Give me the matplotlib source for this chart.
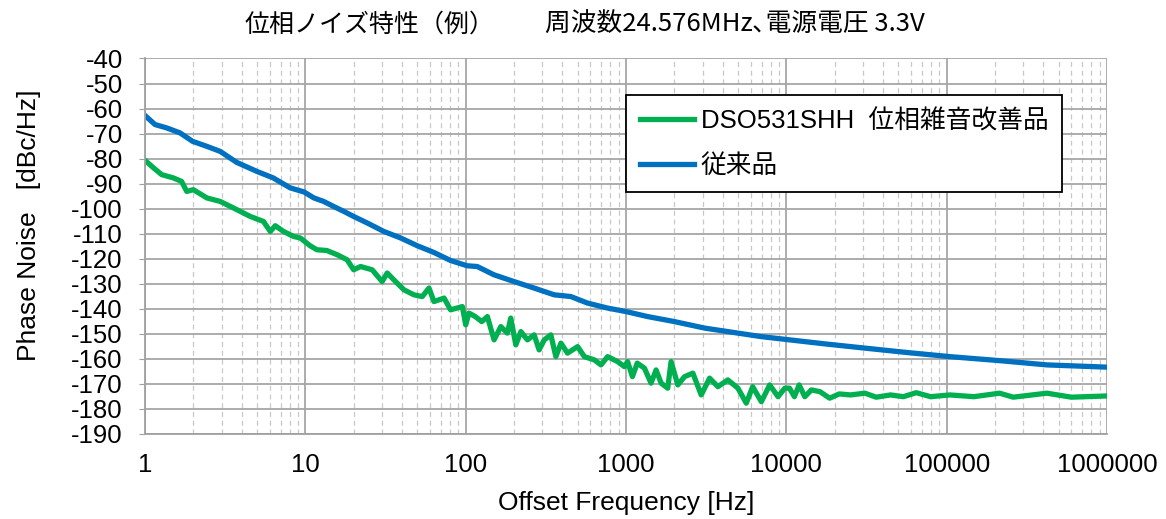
import numpy as np
import matplotlib
matplotlib.use("Agg")
import matplotlib.pyplot as plt
from matplotlib.ticker import FixedLocator, FuncFormatter, LogLocator

plt.rcParams['font.family'] = ['Liberation Sans', 'Noto Sans CJK JP', 'DejaVu Sans']
plt.rcParams['axes.unicode_minus'] = False

# DSO531SHH (green)
green_f = [1.0, 1.13, 1.27, 1.5, 1.69, 1.82, 2.0, 2.43, 2.94, 3.56, 4.53, 5.48, 6.04, 6.49,
           7.31, 8.45, 9.3, 10.7, 11.8, 13.6, 15.8, 18.2, 20.0, 22.1, 26.1, 30.1, 32.4, 35.6,
           41.2, 47.5, 53.6, 59.0, 63.4, 73.3, 80.5, 95.3, 100, 104.7, 114.8, 125.9, 136.5,
           150.3, 165.6, 182.0, 191.0, 205.4, 220.8, 242.7, 267.3, 287.1, 309.0, 339.6, 365.1,
           392.6, 431.5, 498.9, 549.5, 633.9, 698.2, 767.4, 887.2, 977.2, 1023, 1096, 1175,
           1303, 1432, 1540, 1656, 1820, 1910, 2104, 2317, 2612, 2944, 3319, 3741, 4315, 4989,
           5623, 6166, 6982, 7870, 8872, 9772, 10470, 11220, 12020, 13030, 14320, 16220, 18620,
           21380, 25120, 30900, 36310, 44670, 53700, 64570, 79430, 104700, 147900, 213800,
           260000, 421700, 600000, 1000000]
green_db = [-80.7, -83.7, -86.4, -87.7, -89.1, -93.1, -92.4, -95.7, -97.1, -99.7, -103.1, -105.1,
            -109.1, -106.8, -109.1, -111.1, -111.7, -114.8, -116.4, -116.7, -118.4, -120.4,
            -124.4, -123.1, -124.4, -129.1, -125.7, -128.4, -132.4, -134.4, -135.1, -131.7,
            -137.1, -135.7, -140.4, -139.1, -146.4, -141.7, -143.1, -145.1, -143.1, -152.4,
            -147.1, -149.7, -143.7, -154.4, -149.1, -152.4, -150.4, -156.4, -152.4, -150.4,
            -159.1, -153.7, -157.7, -155.1, -159.1, -160.4, -162.4, -159.1, -161.1, -163.1,
            -161.1, -167.1, -161.7, -163.7, -169.7, -164.4, -169.7, -171.7, -161.1, -170.4,
            -167.1, -165.7, -174.4, -167.7, -171.1, -168.4, -171.7, -177.7, -171.1, -177.1,
            -170.4, -175.1, -171.7, -171.7, -175.1, -170.4, -175.1, -172.4, -173.1, -175.7,
            -174.0, -174.4, -173.7, -175.3, -174.4, -175.1, -173.5, -175.1, -174.4, -175.1,
            -173.7, -175.3, -173.7, -175.3, -174.8]

# conventional product (blue)
blue_f = [1.0, 1.155, 1.36, 1.65, 1.98, 2.43, 2.94, 3.73, 4.98, 6.3, 8.05, 9.8, 11.3, 13.0, 15.0,
          17.4, 20.0, 24.3, 30.9, 39.3, 49.9, 63.4, 80.5, 102, 118, 150, 200, 267, 356, 453, 575,
          767, 1000, 1365, 2004, 3090, 4529, 6966, 10470, 17380, 30900, 57540, 104700, 213800,
          421700, 1000000]
blue_db = [-62.8, -66.4, -67.7, -69.7, -73.1, -75.1, -77.1, -81.5, -85.1, -87.7, -91.7, -93.3,
           -95.7, -97.1, -99.1, -101.1, -103.1, -105.7, -109.1, -111.7, -114.8, -117.5, -120.7,
           -122.8, -123.1, -126.4, -129.1, -131.7, -134.4, -135.1, -137.7, -139.7, -141.1,
           -143.1, -145.1, -147.7, -149.3, -151.1, -152.4, -154.0, -155.7, -157.5, -159.1,
           -160.7, -162.4, -163.3]

label_green = "DSO531SHH  位相雑音改善品"
label_blue = "従来品"
yticks = list(range(-40, -191, -10))
xticks = [1, 10, 100, 1000, 10000, 100000, 1000000]

fig = plt.figure(figsize=(11.66, 5.19), dpi=100)
ax = fig.add_axes([0.1244, 0.1638, 0.8250, 0.7235])

ax.plot(green_f, green_db, color='#00B050', lw=3.8, label=label_green, solid_joinstyle='round')
ax.plot(blue_f, blue_db, color='#0070C0', lw=3.8, label=label_blue, solid_joinstyle='round')

ax.set_xscale('log')
ax.set_xlim(1, 1e6)
ax.set_ylim(-190, -40)
ax.xaxis.set_major_locator(FixedLocator(xticks))
ax.xaxis.set_major_formatter(FuncFormatter(lambda v, p: '%d' % round(v)))
ax.xaxis.set_minor_locator(LogLocator(base=10, subs=np.arange(2, 10), numticks=20))
ax.xaxis.set_minor_formatter(FuncFormatter(lambda v, p: ''))
ax.set_yticks(yticks)

ax.grid(True, which='major', axis='both', color='#a6a6a6', lw=1.3, ls='-')
ax.grid(True, which='minor', axis='x', color='#c8c8c8', lw=0.9, ls=(0, (4, 3)))
ax.set_axisbelow(True)
for s in ax.spines.values():
    s.set_color('#a0a0a0')
    s.set_linewidth(1.3)
ax.spines['top'].set_visible(False)
ax.spines['right'].set_visible(False)
ax.tick_params(axis='x', which='both', length=0, labelsize=18.5, pad=14)
ax.tick_params(axis='y', which='both', length=4, color='#a0a0a0', labelsize=18.5, pad=12)

ax.set_xlabel('Offset Frequency [Hz]', fontsize=19, labelpad=10)
ax.set_ylabel('Phase Noise   [dBc/Hz]', fontsize=19)
ax.yaxis.set_label_coords(-0.108, 0.557)

leg = ax.legend(loc='upper left', bbox_to_anchor=(0.5, 0.903), fontsize=18.5, frameon=True,
                fancybox=False, framealpha=1, edgecolor='black', handlelength=2.1,
                handletextpad=0.25, borderpad=0.55, labelspacing=0.8, borderaxespad=0)
leg.get_frame().set_linewidth(1.3)

fig.text(0.21, 0.953, '位相ノイズ特性（例）', fontsize=18, family=['Noto Sans CJK JP'],
         ha='left', va='center')
fig.text(0.467, 0.953, '周波数24.576MHz､電源電圧 3.3V', fontsize=18.5,
         family=['Noto Sans CJK JP'], ha='left', va='center')

fig.savefig('out.png', dpi=100)
